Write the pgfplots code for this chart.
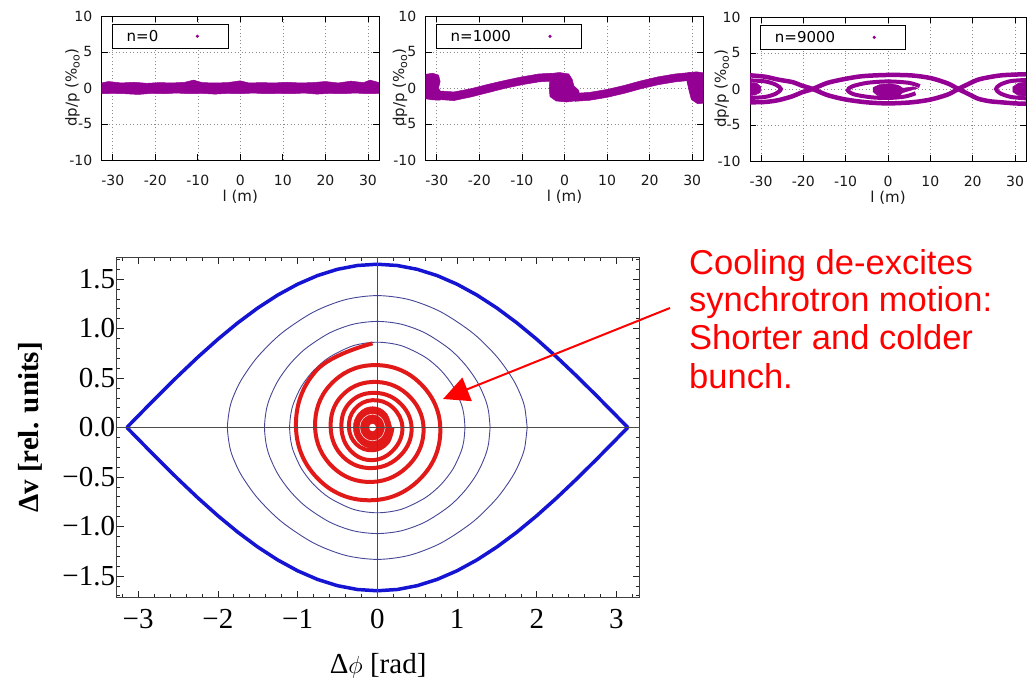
\documentclass[border=0pt]{standalone}
\usepackage{fontspec}
\setmainfont{Liberation Serif}
\newfontfamily\dejavu{DejaVu Sans}
\newfontfamily\libsans{Liberation Sans}
\usepackage{pgfplots}
\pgfplotsset{compat=1.18}
\usetikzlibrary{arrows.meta}
\definecolor{gpurple}{RGB}{148,0,148}
\definecolor{sepblue}{RGB}{20,20,210}
\definecolor{orbitblue}{RGB}{70,70,150}
\definecolor{spiralred}{RGB}{225,25,25}
\definecolor{annred}{RGB}{255,0,0}
\newcommand{\permil}{\%{\fontsize{11bp}{12bp}\selectfont\raisebox{-3bp}{oo}}}
\pgfplotsset{
 gp/.style={
  scale only axis, height=144bp,
  xmin=-32.6, xmax=32.6, ymin=-10, ymax=10,
  xtick={-30,-20,-10,0,10,20,30}, xticklabels={-30,-20,-10,0,10,20,30},
  ytick={-10,-5,0,5,10}, yticklabels={-10,-5,0,5,10},
  xmajorgrids, ymajorgrids,
  grid style={black!45, dash pattern=on 1bp off 2.5bp, line width=0.6bp},
  tick align=inside, xtick pos=both, ytick pos=both,
  major tick length=6bp,
  every tick/.style={black, line width=0.8bp},
  axis line style={black, line width=0.9bp},
  ticklabel style={font=\dejavu\fontsize{14bp}{16bp}\selectfont, text=black!90},
  xticklabel style={yshift=-12bp},
  yticklabel style={xshift=-6bp},
  label style={font=\dejavu\fontsize{15bp}{17bp}\selectfont, text=black!90},
  xlabel={l (m)}, ylabel={dp/p (\permil)},
  xlabel style={at={(axis description cs:0.5,-0.255)}, anchor=center},
  legend plot pos=right, legend columns=2,
  legend style={at={(axis description cs:0.038,0.944)}, anchor=north west, draw=black, line width=0.9bp, font=\dejavu\fontsize{15bp}{17bp}\selectfont, inner xsep=12bp, inner ysep=3.5bp},
 }
}
\begin{document}
\begin{tikzpicture}
\useasboundingbox (0,0) rectangle (1031bp,681bp);
% ---------- panel n=0
\begin{axis}[gp, at={(101.7bp,521bp)}, anchor=south west, width=277.3bp,
  ylabel style={at={(axis description cs:-0.105,0.5)}, anchor=center}]
\addlegendimage{only marks, mark=*, mark size=1.1bp, gpurple}
\addlegendentry{n=0\hspace*{36bp}}
\addlegendimage{empty legend}
\addlegendentry{\hspace*{14bp}}
\addplot[forget plot, fill=gpurple, draw=gpurple, line width=0.5bp] coordinates {
(-32.6,0.7)(-31,0.9)(-28,0.7)(-25,0.8)(-22,0.65)(-19,0.75)(-16,0.7)(-13,0.8)(-11,1.1)(-9,0.75)(-6,0.7)(-3,0.75)(0,1.0)(2,0.7)(5,0.75)(8,0.7)(11,0.8)(14,0.7)(17,0.75)(20,0.9)(23,0.7)(26,0.95)(29,0.75)(30.5,1.1)(32.6,0.75)
(32.6,-0.75)(30,-0.8)(27,-0.7)(24,-0.8)(21,-0.75)(18,-0.85)(15,-0.7)(12,-0.8)(9,-0.75)(6,-0.8)(3,-0.7)(0,-0.8)(-3,-0.75)(-6,-0.85)(-9,-0.75)(-12,-0.8)(-15,-0.7)(-18,-0.8)(-21,-0.75)(-24,-0.9)(-27,-0.8)(-30,-0.75)(-32.6,-0.8)} --cycle;
\end{axis}
% ---------- panel n=1000
\begin{axis}[gp, at={(425.7bp,521bp)}, anchor=south west, width=277.6bp,
  ylabel style={at={(axis description cs:-0.0926,0.5)}, anchor=center}]
\addlegendimage{only marks, mark=*, mark size=1.1bp, gpurple}
\addlegendentry{n=1000\hspace*{36bp}}
\addlegendimage{empty legend}
\addlegendentry{\hspace*{14bp}}
\addplot[forget plot, fill=gpurple, draw=gpurple, line width=0.5bp] coordinates {
(-32.6,1.9)(-31,2.05)(-29.6,1.8)(-29.2,0.9)(-29.6,0)(-28.8,-0.9)(-29.2,-1.7)(-31,-1.65)(-32.6,-1.5)} --cycle;
\addplot[forget plot, fill=gpurple, draw=gpurple, line width=0.5bp] coordinates {
(-29.5,-0.4)(-26,-0.55)(-22,-0.1)(-18,0.5)(-14,1.05)(-10,1.55)(-6,1.95)(-3.2,2.05)(-3.2,0.95)(-6,0.85)(-10,0.45)(-14,-0.05)(-18,-0.65)(-22,-1.25)(-26,-1.75)(-29.5,-1.6)} --cycle;
\addplot[forget plot, fill=gpurple, draw=gpurple, line width=0.5bp] coordinates {
(-3.3,2.0)(-1.2,2.15)(1,1.95)(1.8,1.2)(2.2,0.3)(3.3,-0.3)(3.6,-1.0)(3.0,-1.75)(0.5,-1.95)(-2,-1.8)(-3.4,-1.2)(-3.6,0)(-3.4,1.2)} --cycle;
\addplot[forget plot, fill=gpurple, draw=gpurple, line width=0.5bp] coordinates {
(2.5,-0.75)(6,-0.6)(10,-0.2)(14,0.35)(18,1.0)(22,1.55)(26,1.95)(29.5,2.15)(29.5,1.05)(26,0.85)(22,0.45)(18,-0.1)(14,-0.75)(10,-1.3)(6,-1.7)(2.5,-1.85)} --cycle;
\addplot[forget plot, fill=gpurple, draw=gpurple, line width=0.5bp] coordinates {
(29,2.1)(31,2.25)(32.6,2.1)(32.6,-2.1)(31.3,-2.2)(29.8,-1.6)(29.3,-0.5)(28.8,0.8)} --cycle;
\end{axis}
% ---------- panel n=9000
\begin{axis}[gp, at={(750bp,520bp)}, anchor=south west, width=276bp,
  ylabel style={at={(axis description cs:-0.1025,0.5)}, anchor=center}]
\addlegendimage{only marks, mark=*, mark size=1.1bp, gpurple}
\addlegendentry{n=9000\hspace*{36bp}}
\addlegendimage{empty legend}
\addlegendentry{\hspace*{14bp}}
\addplot[forget plot, gpurple, line width=4.5bp, smooth] coordinates {
(-32.6,-1.85)(-29,-1.8)(-25.9,-1.55)(-22.5,-1.0)(-20.5,-0.5)(-17.8,0)(-14.3,0.85)(-10.1,1.4)(-6,1.78)(0,1.95)(5.6,1.88)(10.2,1.5)(14.2,0.75)(16.6,0)(19,-0.7)(21.3,-1.35)(24,-1.7)(26.8,-1.85)(30,-2.0)(32.6,-2.05)};
\addplot[forget plot, gpurple, line width=4.5bp, smooth] coordinates {
(-32.6,1.9)(-29,1.7)(-25.9,1.3)(-22.5,0.95)(-20.5,0.5)(-17.8,0)(-14.3,-0.85)(-10.1,-1.45)(-5,-1.85)(0,-2.0)(5.6,-1.85)(10.2,-1.45)(14.2,-0.75)(16.6,0)(19,0.7)(21.3,1.3)(24,1.65)(26.8,1.9)(30,2.0)(32.6,2.05)};
\addplot[forget plot, gpurple, line width=4bp, smooth] coordinates {
(7.5,0.4)(5,0.85)(0,1.05)(-5,0.85)(-8.5,0.35)(-9.5,-0.2)(-8,-0.75)(-4,-1.15)(0,-1.25)(4,-1.05)(6.5,-0.6)};
\addplot[forget plot, fill=gpurple, draw=gpurple, line width=0.5bp] coordinates {
(-3.5,0.2)(-2,0.6)(0.5,0.75)(2.5,0.5)(3.5,0.1)(6,0.3)(7,0.1)(3.5,-0.5)(2.5,-1.0)(0,-1.15)(-2.5,-0.9)(-3.5,-0.4)} --cycle;
\addplot[forget plot, gpurple, line width=4bp, smooth] coordinates {
(-32.6,1.2)(-29,1.05)(-26.5,0.6)(-25.3,0)(-26.5,-0.65)(-29,-1.1)(-32.6,-1.25)};
\addplot[forget plot, fill=gpurple, draw=gpurple, line width=0.5bp] coordinates {
(-32.6,0.9)(-31,0.8)(-30,0.3)(-30.2,-0.5)(-31.5,-0.85)(-32.6,-0.9)} --cycle;
\addplot[forget plot, gpurple, line width=4bp, smooth] coordinates {
(32.6,1.25)(29,1.1)(26.5,0.6)(25.5,0)(26.5,-0.6)(29,-1.1)(32.6,-1.3)};
\addplot[forget plot, fill=gpurple, draw=gpurple, line width=0.5bp] coordinates {
(32.6,1.0)(30.8,0.8)(29.5,0.3)(29.5,-0.4)(30.8,-0.9)(32.6,-1.0)} --cycle;
\end{axis}
% ---------- phase space
\begin{axis}[at={(116.6bp,83.3bp)}, anchor=south west, scale only axis, width=523bp, height=340.4bp,
 xmin=-3.27, xmax=3.29, ymin=-1.72, ymax=1.72,
 xtick={-3,-2,-1,0,1,2,3}, xticklabels={−3,−2,−1,0,1,2,3},
 ytick={-1.5,-1,-0.5,0,0.5,1,1.5}, yticklabels={−1.5,−1.0,−0.5,0.0,0.5,1.0,1.5},
 minor xtick={-3.2,-3,...,3.2}, minor ytick={-1.7,-1.6,...,1.7},
 tick align=inside, xtick pos=both, ytick pos=both,
 major tick length=7bp, minor tick length=3.5bp,
 every tick/.style={black!85, line width=0.6bp},
 axis line style={black!75, line width=0.8bp},
 ticklabel style={font=\fontsize{29bp}{32bp}\selectfont},
 xticklabel style={yshift=-8bp}, yticklabel style={xshift=2bp},
 xlabel={Δ$\phi$ [rad]}, ylabel={\bfseries Δv [rel. units]},
 label style={font=\fontsize{29bp}{32bp}\selectfont},
 xlabel style={at={(axis description cs:0.5,-0.2)}, anchor=center},
 ylabel style={at={(axis description cs:-0.1656,0.5)}, anchor=center},
]
\addplot[sepblue, line width=3.5bp] coordinates {
(-3.1416,0)(-3.0,0.1167)(-2.75,0.3210)(-2.5,0.5203)(-2.25,0.7114)(-2.0,0.8915)(-1.75,1.0577)(-1.5,1.2073)(-1.25,1.3381)(-1.0,1.4480)(-0.75,1.5353)(-0.5,1.5987)(-0.25,1.6371)(0,1.65)(0.25,1.6371)(0.5,1.5987)(0.75,1.5353)(1.0,1.4480)(1.25,1.3381)(1.5,1.2073)(1.75,1.0577)(2.0,0.8915)(2.25,0.7114)(2.5,0.5203)(2.75,0.3210)(3.0,0.1167)(3.1416,0)};
\addplot[sepblue, line width=3.5bp] coordinates {
(-3.1416,0)(-3.0,-0.1167)(-2.75,-0.3210)(-2.5,-0.5203)(-2.25,-0.7114)(-2.0,-0.8915)(-1.75,-1.0577)(-1.5,-1.2073)(-1.25,-1.3381)(-1.0,-1.4480)(-0.75,-1.5353)(-0.5,-1.5987)(-0.25,-1.6371)(0,-1.65)(0.25,-1.6371)(0.5,-1.5987)(0.75,-1.5353)(1.0,-1.4480)(1.25,-1.3381)(1.5,-1.2073)(1.75,-1.0577)(2.0,-0.8915)(2.25,-0.7114)(2.5,-0.5203)(2.75,-0.3210)(3.0,-0.1167)(3.1416,0)};
\addplot[orbitblue, line width=0.9bp, smooth] coordinates {
(1.88,0)(1.85,0.199)(1.8,0.324)(1.7,0.489)(1.5,0.715)(1.2,0.953)(0.8,1.167)(0.4,1.292)(0,1.333)(-0.4,1.292)(-0.8,1.167)(-1.2,0.953)(-1.5,0.715)(-1.7,0.489)(-1.8,0.324)(-1.85,0.199)(-1.88,0)
(-1.85,-0.199)(-1.8,-0.324)(-1.7,-0.489)(-1.5,-0.715)(-1.2,-0.953)(-0.8,-1.167)(-0.4,-1.292)(0,-1.333)(0.4,-1.292)(0.8,-1.167)(1.2,-0.953)(1.5,-0.715)(1.7,-0.489)(1.8,-0.324)(1.85,-0.199)(1.88,0)};
\addplot[orbitblue, line width=0.9bp, smooth] coordinates {
(1.415,0)(1.395,0.164)(1.35,0.295)(1.25,0.467)(1.1,0.637)(0.9,0.797)(0.6,0.955)(0.3,1.044)(0,1.072)(-0.3,1.044)(-0.6,0.955)(-0.9,0.797)(-1.1,0.637)(-1.25,0.467)(-1.35,0.295)(-1.395,0.164)(-1.415,0)
(-1.395,-0.164)(-1.35,-0.295)(-1.25,-0.467)(-1.1,-0.637)(-0.9,-0.797)(-0.6,-0.955)(-0.3,-1.044)(0,-1.072)(0.3,-1.044)(0.6,-0.955)(0.9,-0.797)(1.1,-0.637)(1.25,-0.467)(1.35,-0.295)(1.395,-0.164)(1.415,0)};
\addplot[orbitblue, line width=0.9bp, smooth] coordinates {
(1.10,0)(1.085,0.135)(1.05,0.245)(0.95,0.418)(0.8,0.575)(0.6,0.711)(0.3,0.827)(0,0.862)(-0.3,0.827)(-0.6,0.711)(-0.8,0.575)(-0.95,0.418)(-1.05,0.245)(-1.085,0.135)(-1.10,0)
(-1.085,-0.135)(-1.05,-0.245)(-0.95,-0.418)(-0.8,-0.575)(-0.6,-0.711)(-0.3,-0.827)(0,-0.862)(0.3,-0.827)(0.6,-0.711)(0.8,-0.575)(0.95,-0.418)(1.05,-0.245)(1.085,-0.135)(1.10,0)};
\addplot[spiralred, line width=4bp, smooth, tension=0.7] coordinates {
(-0.06,0.85)(-0.760,0.580)(-1.02,0)(-0.718,-0.539)(-0.06,-0.735)(0.559,-0.500)(0.79,0)(0.516,0.463)(-0.06,0.63)(-0.590,0.431)(-0.78,0)(-0.555,-0.403)(-0.06,-0.55)(0.407,-0.371)(0.58,0)(0.371,0.339)(-0.06,0.46)(-0.451,0.316)(-0.585,0)(-0.426,-0.299)(-0.06,-0.41)(0.294,-0.279)(0.43,0)(0.269,0.258)(-0.06,0.35)(-0.353,0.244)(-0.45,0)(-0.332,-0.237)(-0.06,-0.33)(0.207,-0.223)(0.315,0)(0.191,0.204)(-0.06,0.276)(-0.283,0.186)(-0.356,0)(-0.262,-0.170)(-0.06,-0.23)(0.124,-0.156)(0.19,0)};
\addplot[fill=spiralred, draw=spiralred, line width=0.5bp, smooth, tension=0.7] coordinates {
(0.18,0)(0.11,0.148)(-0.06,0.21)(-0.23,0.148)(-0.30,0)(-0.23,-0.148)(-0.06,-0.21)(0.11,-0.148)(0.18,0)} --cycle;
\addplot[white, line width=0.5bp, smooth, tension=0.7] coordinates {
(0.10,0)(0.053,0.095)(-0.06,0.135)(-0.173,0.095)(-0.22,0)(-0.173,-0.095)(-0.06,-0.135)(0.053,-0.095)(0.10,0)};
\addplot[fill=white, draw=white, smooth, tension=0.7] coordinates {
(-0.02,0)(-0.032,0.025)(-0.06,0.035)(-0.088,0.025)(-0.10,0)(-0.088,-0.025)(-0.06,-0.035)(-0.032,-0.025)(-0.02,0)} --cycle;
\addplot[black!70, line width=0.9bp] coordinates {(-3.27,0)(3.29,0)};
\addplot[black!70, line width=0.9bp] coordinates {(0,-1.72)(0,1.72)};
\end{axis}
% ---------- annotation
\begin{scope}[every node/.style={anchor=base west, inner sep=0pt, text=annred, font=\libsans\fontsize{34.5bp}{38bp}\selectfont}]
\node at (689bp,406.7bp) {Cooling de-excites};
\node at (689bp,369.3bp) {synchrotron motion:};
\node at (689bp,331bp) {Shorter and colder};
\node at (689bp,292.7bp) {bunch.};
\end{scope}
\draw[annred, line width=2bp, -{Triangle[length=26bp, width=25bp]}] (670bp,373bp) -- (443bp,282bp);
\end{tikzpicture}
\end{document}
